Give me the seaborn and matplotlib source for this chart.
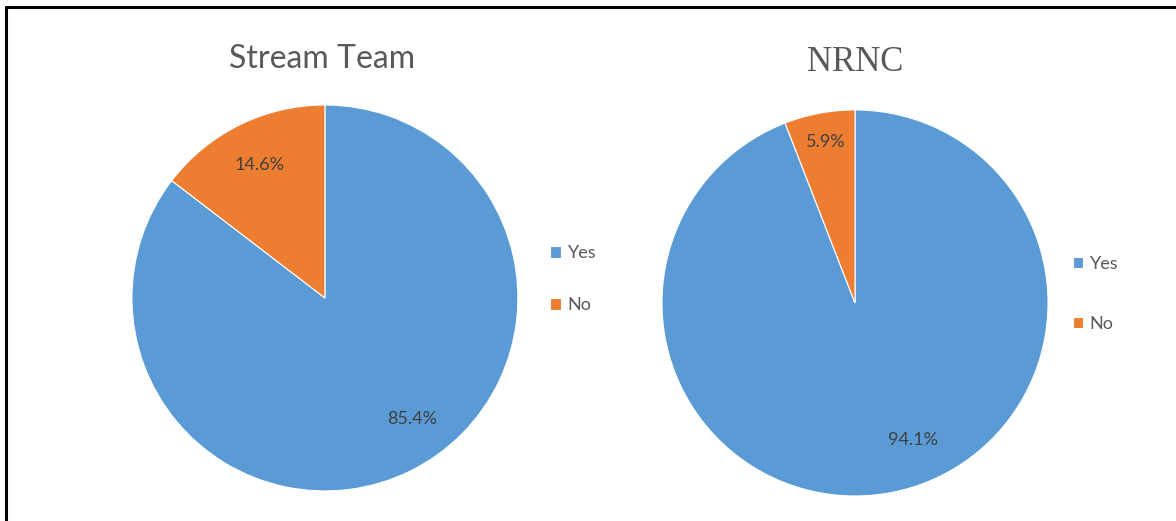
import matplotlib
matplotlib.use("Agg")
import matplotlib.pyplot as plt
from matplotlib.lines import Line2D
import numpy as np
import seaborn as sns

# data
answers = ["Yes", "No"]
stream_team = [85.4, 14.6]
nrnc = [94.1, 5.9]

sns.set_theme(style="white")
plt.rcParams['font.family'] = ['Lato', 'DejaVu Sans']
colors = ["#5B9BD5", "#ED7D31"]
grey = "#595959"

fig = plt.figure(figsize=(11.76, 5.21), dpi=100)

ax1 = fig.add_axes([0.1122, 0.0576, 0.3282, 0.741])
ax2 = fig.add_axes([0.5621, 0.048, 0.3299, 0.741])


def turn(txt, deg, scale=1.0):
    # rotate a label around the pie centre (Excel puts the big-slice label off the middle)
    x, y = txt.get_position()
    r = np.hypot(x, y) * scale
    a = np.arctan2(y, x) + np.radians(deg)
    txt.set_position((r * np.cos(a), r * np.sin(a)))


w1, t1, a1 = ax1.pie(stream_team, colors=colors, startangle=90, counterclock=False,
                     autopct="%.1f%%", pctdistance=0.77,
                     wedgeprops=dict(linewidth=0.8, edgecolor="white"),
                     textprops=dict(color="#404040", fontsize=13))
w2, t2, a2 = ax2.pie(nrnc, colors=colors, startangle=90, counterclock=False,
                     autopct="%.1f%%", pctdistance=0.77,
                     wedgeprops=dict(linewidth=0.8, edgecolor="white"),
                     textprops=dict(color="#404040", fontsize=13))
turn(a1[0], 9.5)
turn(a2[0], 12.5)
turn(a2[1], -0.5, 1.1)
for ax in (ax1, ax2):
    ax.set_xlim(-1.0, 1.0)
    ax.set_ylim(-1.0, 1.0)
    ax.set_aspect("equal")

fig.text(0.274, 0.887, "Stream Team", ha="center", va="center", fontsize=23, color=grey)
fig.text(0.727, 0.88, "NRNC", ha="center", va="center", fontsize=25, color=grey,
         family=["Liberation Serif", "DejaVu Serif"])

leg_kw = dict(frameon=False, loc="center left", handlelength=0.6, handleheight=0.6,
              handletextpad=0.35, borderpad=0, borderaxespad=0, fontsize=13)
l1 = fig.legend(w1, answers, bbox_to_anchor=(0.468, 0.464), labelspacing=2.0, **leg_kw)
l2 = fig.legend(w2, answers, bbox_to_anchor=(0.912, 0.436), labelspacing=2.45, **leg_kw)
for leg in (l1, l2):
    for t in leg.get_texts():
        t.set_color(grey)

# frame lines on top and left of the picture
fig.add_artist(Line2D([0.0051, 1.0], [0.9875, 0.9875], color="black", lw=2.2,
                      transform=fig.transFigure))
fig.add_artist(Line2D([0.0051, 0.0051], [0.0, 0.9875], color="black", lw=2.2,
                      transform=fig.transFigure))

fig.savefig("out.png", dpi=100)
